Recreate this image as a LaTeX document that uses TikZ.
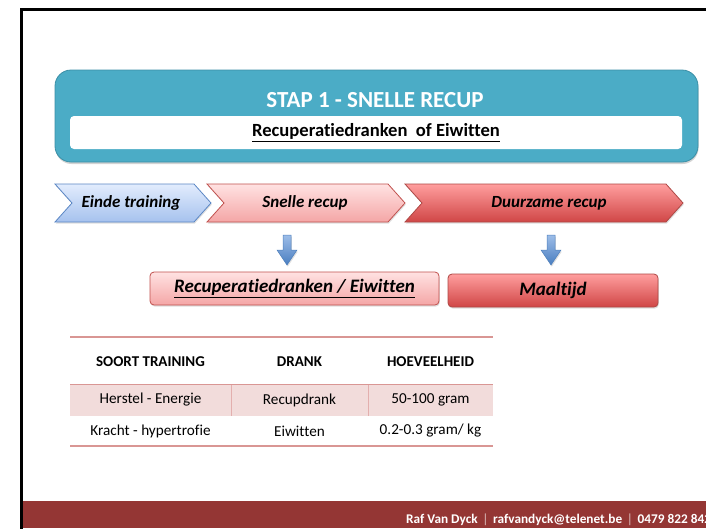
\documentclass[tikz,border=0pt]{standalone}
\usepackage{fontspec}
\setmainfont[Ligatures=NoCommon]{Carlito}
\usetikzlibrary{shadows}
\definecolor{aqua}{HTML}{4BACC6}
\definecolor{aquadark}{HTML}{3B8FA6}
\definecolor{blueTop}{HTML}{E2ECFD}
\definecolor{blueBot}{HTML}{A6C2EE}
\definecolor{blueEdge}{HTML}{5A86C4}
\definecolor{pinkTop}{HTML}{FFE2E2}
\definecolor{pinkBot}{HTML}{F4A6A6}
\definecolor{redTop}{HTML}{FF9E9E}
\definecolor{redBot}{HTML}{D04646}
\definecolor{redEdge}{HTML}{C0504D}
\definecolor{arrTop}{HTML}{9DBDE8}
\definecolor{arrBot}{HTML}{4A7EC0}
\definecolor{arrEdge}{HTML}{4F81BD}
\definecolor{tline}{HTML}{D99694}
\definecolor{tshade}{HTML}{F2DCDB}
\definecolor{tsep}{HTML}{E3AFAE}
\definecolor{footer}{HTML}{943634}
\tikzset{
  softshadow/.style={drop shadow={opacity=0.25, shadow xshift=0.8pt, shadow yshift=-1.6pt}},
  chevblue/.style={top color=blueTop, bottom color=blueBot, draw=blueEdge, line width=0.8pt, softshadow},
  chevpink/.style={top color=pinkTop, bottom color=pinkBot, draw=redEdge, line width=0.8pt, softshadow},
  chevred/.style={top color=redTop, bottom color=redBot, draw=redEdge!90!black, line width=0.8pt, softshadow},
  chevtext/.style={font=\bfseries\itshape\fontsize{17}{20}\selectfont, text=black, inner sep=0pt},
  blockarrow/.style={top color=arrTop, bottom color=arrBot, draw=arrEdge, line width=0.5pt, softshadow},
  boxtext/.style={font=\bfseries\itshape\fontsize{19}{22}\selectfont, text=black, rounded corners=4pt, line width=0.8pt, softshadow},
  thead/.style={font=\bfseries\fontsize{15}{18}\selectfont, inner sep=0pt},
  tcell/.style={font=\fontsize{15.2}{18}\selectfont, inner sep=0pt},
  tlinestyle/.style={draw=tline, line width=1.3pt},
}
\newcommand{\footsep}{\hspace{0.35em}\textcolor{white!70!footer}{\mdseries|}\hspace{0.35em}}
\begin{document}
\begin{tikzpicture}[x=1pt,y=-1pt]
\useasboundingbox (0,0) rectangle (706,528);
\clip (0,0) rectangle (706,528);
% slide frame
\draw[line width=2.7pt] (21.35,560) -- (21.35,9.35) -- (740,9.35);
% footer
\fill[footer] (22.7,501) rectangle (706,528);
\node[anchor=base west, inner sep=0pt, text=white, font=\bfseries\fontsize{13.3}{15}\selectfont] (foot) at (406,523)
  {Raf Van Dyck\footsep rafvandyck@telenet.be\footsep 0479 822 842};
% header box
\path[fill=aqua, draw=aquadark, line width=0.8pt, rounded corners=16pt, drop shadow={opacity=0.35, shadow xshift=0.5pt, shadow yshift=-2pt}] (55,70) rectangle (698,162);
\node[text=white, font=\bfseries\fontsize{23}{27}\selectfont, inner sep=0pt] (title) at (375,100) {STAP 1 - SNELLE RECUP};
\node[fill=white, rounded corners=4pt, minimum width=612pt, minimum height=33pt, inner sep=0pt,
      font=\bfseries\fontsize{18.6}{21}\selectfont] (sub) at (376,132.5) {\underline{Recuperatiedranken\ \ of Eiwitten}};
% chevrons
\path[chevblue] (55,184) -- (194,184) -- (211,203) -- (194,222) -- (55,222) -- (72,203) -- cycle;
\path[chevpink] (207,184) -- (388,184) -- (405,203) -- (388,222) -- (207,222) -- (224,203) -- cycle;
\path[chevred] (405,184) -- (666,184) -- (683,203) -- (666,222) -- (405,222) -- (422,203) -- cycle;
\node[chevtext] (c1) at (131,203) {Einde training};
\node[chevtext] (c2) at (305,203) {Snelle recup};
\node[chevtext] (c3) at (549,203) {Duurzame recup};
% down block arrows
\path[blockarrow] (283,235) -- (291,235) -- (291,250) -- (297,250) -- (287,265) -- (277,250) -- (283,250) -- cycle;
\path[blockarrow] (547,235) -- (555,235) -- (555,250) -- (561,250) -- (551,265) -- (541,250) -- (547,250) -- cycle;
% result boxes
\node[boxtext, top color=pinkTop, bottom color=pinkBot, draw=redEdge, minimum width=289pt, minimum height=33pt, inner sep=0pt] (b1) at (294.5,288.5)
  {\underline{Recuperatiedranken / Eiwitten}};
\node[boxtext, top color=redTop, bottom color=redBot, draw=redEdge!90!black, minimum width=210pt, minimum height=33pt, inner sep=0pt] (b2) at (553,290.5)
  {Maaltijd};
% table
\fill[tshade] (70,385) rectangle (493,415.5);
\draw[draw=tsep, line width=0.8pt] (231,385) -- (231,415.5);
\draw[draw=tsep, line width=0.8pt] (368,385) -- (368,415.5);
\draw[tlinestyle] (70,337) -- (493,337);
\draw[tlinestyle] (70,384.5) -- (493,384.5);
\draw[tlinestyle] (70,446) -- (493,446);
\node[thead] (h1) at (150.5,362) {SOORT TRAINING};
\node[thead] (h2) at (299.5,362) {DRANK};
\node[thead] (h3) at (430.5,362) {HOEVEELHEID};
\node[tcell] (r11) at (150.5,400) {Herstel - Energie};
\node[tcell] (r12) at (299.5,400) {Recupdrank};
\node[tcell] (r13) at (430.5,400) {50-100 gram};
\node[tcell] (r21) at (150.5,431) {Kracht - hypertrofie};
\node[tcell] (r22) at (299.5,431) {Eiwitten};
\node[tcell] (r23) at (430.5,431) {0.2-0.3 gram/ kg};
\end{tikzpicture}
\end{document}
